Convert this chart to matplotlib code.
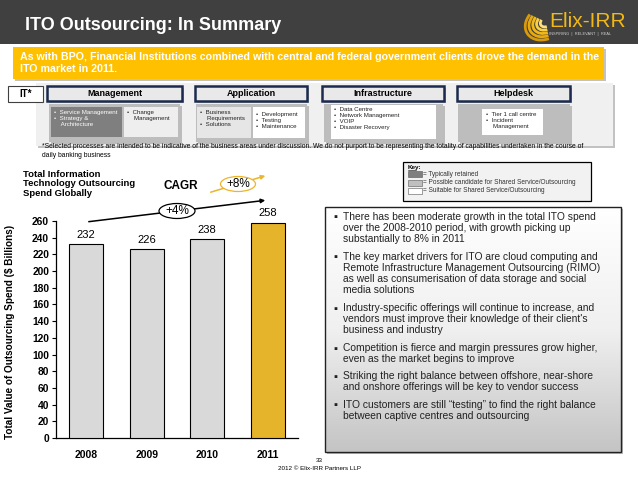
import matplotlib.pyplot as plt
import matplotlib.patches as mpatches
from matplotlib.colors import LinearSegmentedColormap
import numpy as np

plt.rcParams['font.family'] = ['Liberation Sans', 'DejaVu Sans']

# chart values
years = ['2008', '2009', '2010', '2011']
spend = [232, 226, 238, 258]
bar_colors = ['#D9D9D9', '#D9D9D9', '#D9D9D9', '#E6B42A']
yticks = list(range(0, 261, 20))
cagr_labels = ['+4%', '+8%']

# IT service areas and what sits under each one
areas = ['Management', 'Application', 'Infrastructure', 'Helpdesk']

key_labels = ['= Typically retained',
              '= Possible candidate for Shared Service/Outsourcing',
              '= Suitable for Shared Service/Outsourcing']
key_colors = ['#7F7F7F', '#BFBFBF', '#FFFFFF']

bullets = [
    'There has been moderate growth in the total ITO spend\nover the 2008-2010 period, with growth picking up\nsubstantially to 8% in 2011',
    'The key market drivers for ITO are cloud computing and\nRemote Infrastructure Management Outsourcing (RIMO)\nas well as consumerisation of data storage and social\nmedia solutions',
    'Industry-specific offerings will continue to increase, and\nvendors must improve their knowledge of their client\'s\nbusiness and industry',
    'Competition is fierce and margin pressures grow higher,\neven as the market begins to improve',
    'Striking the right balance between offshore, near-shore\nand onshore offerings will be key to vendor success',
    'ITO customers are still \u201ctesting\u201d to find the right balance\nbetween captive centres and outsourcing',
]

fig = plt.figure(figsize=(6.38, 4.79), dpi=100)
fig.patch.set_facecolor('white')

# background axes in pixel coordinates (y down)
bg = fig.add_axes([0, 0, 1, 1])
bg.set_xlim(0, 638)
bg.set_ylim(479, 0)
bg.axis('off')


def box(x0, y0, x1, y1, fc, ec='none', lw=0, shadow=False, z=2):
    if shadow:
        bg.add_patch(mpatches.Rectangle((x0 + 2, y0 + 2), x1 - x0, y1 - y0,
                                        fc='#9A9A9A', ec='none', alpha=0.6, zorder=z - 0.1))
    bg.add_patch(mpatches.Rectangle((x0, y0), x1 - x0, y1 - y0, fc=fc, ec=ec, lw=lw, zorder=z))


# header band and title
box(0, 0, 638, 44, '#404040', z=1)
bg.text(25, 25, 'ITO Outsourcing: In Summary', color='white', fontsize=13,
        fontweight='bold', va='center', ha='left', zorder=5)

# logo (striped swirl + name)
for r, c in zip([6, 10, 14, 18, 22], ['#FFE07A', '#F8CF45', '#F2B817', '#E8A90F', '#D99A0A']):
    bg.add_patch(mpatches.Arc((546, 22), 2 * r, 2 * r * 0.75, angle=-30, theta1=110, theta2=235,
                              color=c, lw=2.0, zorder=5))
bg.text(549, 21, 'Elix-IRR', color='#F2B817', fontsize=15, va='center', ha='left', zorder=5)
bg.text(549, 34, 'INSPIRING  |  RELEVANT  |  REAL', color='#D0D0D0', fontsize=2.8,
        va='center', ha='left', zorder=5)

# yellow banner
box(13, 47, 604, 79, '#FFC000', shadow=True)
bg.text(20, 63, 'As with BPO, Financial Institutions combined with central and federal government clients drove the demand in the\nITO market in 2011.',
        color='white', fontsize=7.7, fontweight='bold', va='center', ha='left', linespacing=1.3, zorder=5)

# IT row
box(36, 83, 613, 146, '#F0F0F0', shadow=True, z=1)
box(8, 86, 43, 102, 'white', ec='#404040', lw=0.8)
bg.text(25.5, 94, 'IT*', fontsize=7, fontweight='bold', ha='center', va='center', zorder=5)

headers = [(47, 182), (195, 307), (322, 444), (457, 570)]
for (x0, x1), name in zip(headers, areas):
    box(x0, 86, x1, 101, '#E9E9E9', ec='#1B2A4E', lw=1.8, shadow=True, z=3)
    bg.text((x0 + x1) / 2, 93.5, name, fontsize=6.5, fontweight='bold', ha='center', va='center', zorder=5)

# grey holders under each header
for x0, x1 in [(49, 180), (196, 307), (324, 443), (458, 570)]:
    box(x0, 104, x1, 142, '#BDBDBD', shadow=True, z=3)

inner = [
    (51, 122, 107, 137, '#7F7F7F', '\u2022  Service Management\n\u2022  Strategy &\n    Architecture', 'white', 54, 110),
    (124, 178, 107, 137, '#EEEEEE', '\u2022  Change\n    Management', '#222222', 127, 110),
    (197, 251, 107, 138, '#E6E6E6', '\u2022  Business\n    Requirements\n\u2022  Solutions', '#222222', 200, 110),
    (253, 305, 107, 138, 'white', '\u2022  Development\n\u2022  Testing\n\u2022  Maintenance', '#222222', 256, 112),
    (331, 436, 105, 139, 'white', '\u2022  Data Centre\n\u2022  Network Management\n\u2022  VOIP\n\u2022  Disaster Recovery', '#222222', 334, 107),
    (482, 543, 109, 135, 'white', '\u2022  Tier 1 call centre\n\u2022  Incident\n    Management', '#222222', 486, 112),
]
for x0, x1, y0, y1, fc, txt, tc, tx, ty in inner:
    box(x0, y0, x1, y1, fc, z=4)
    bg.text(tx, ty, txt, fontsize=4.4, color=tc, ha='left', va='top', linespacing=1.25, zorder=5)

bg.text(42, 151, '*Selected processes are intended to be indicative of the business areas under discussion. We do not purport to be representing the totality of capabilities undertaken in the course of\ndaily banking business',
        fontsize=4.85, ha='left', va='center', linespacing=1.55, zorder=5)

# key
box(403, 162, 591, 201, '#F2F2F2', ec='black', lw=0.9)
bg.text(408, 167, 'Key:', fontsize=4.6, fontweight='bold', ha='left', va='center', zorder=5)
bg.plot([408, 416], [169.5, 169.5], color='black', lw=0.4, zorder=5)
for i, (lab, c) in enumerate(zip(key_labels, key_colors)):
    yy = 174 + i * 8.5
    box(408, yy - 3, 422, yy + 3, c, ec='#555555', lw=0.4, z=5)
    bg.text(423, yy, lab, fontsize=4.7, color='#333333', ha='left', va='center', zorder=5)

# text box with gradient
bg.add_patch(mpatches.Rectangle((327, 209), 296, 245, fc='#8A8A8A', ec='none', alpha=0.6, zorder=1))
grad = np.linspace(0, 1, 256).reshape(-1, 1)
cmap = LinearSegmentedColormap.from_list('g', ['#FFFFFF', '#F0F0F0', '#C4C4C4'])
bg.imshow(grad, extent=[325, 621, 452, 207], cmap=cmap, aspect='auto', zorder=2, origin='upper')
bg.add_patch(mpatches.Rectangle((325, 207), 296, 245, fc='none', ec='#222222', lw=1.0, zorder=3))
bg.set_xlim(0, 638)
bg.set_ylim(479, 0)

y = 212
for b in bullets:
    n = b.count('\n') + 1
    bg.text(333, y + 0.5, '\u25aa', fontsize=8, color='#222222', ha='left', va='top', zorder=5)
    bg.text(343, y, b, fontsize=7.35, color='#222222', ha='left', va='top', linespacing=1.13, zorder=5)
    y += n * 11.55 + 5.2

# footer
bg.text(319, 461, '33', fontsize=4.5, ha='center', va='center', zorder=5)
bg.text(319, 468, '2012 \u00a9 Elix-IRR Partners LLP', fontsize=4.5, ha='center', va='center', zorder=5)

# chart titles
bg.text(23, 184, 'Total Information\nTechnology Outsourcing\nSpend Globally', fontsize=6.8, fontweight='bold',
        ha='left', va='center', linespacing=1.12, zorder=5)
bg.text(181, 186, 'CAGR', fontsize=8.5, fontweight='bold', ha='center', va='center', zorder=5)

# CAGR arrows
bg.annotate('', xy=(268, 200), xytext=(86, 222),
            arrowprops=dict(arrowstyle='-|>', color='black', lw=1.1, mutation_scale=6), zorder=5)
bg.annotate('', xy=(268, 175), xytext=(208, 193),
            arrowprops=dict(arrowstyle='-|>', color='#EBB52C', lw=1.1, mutation_scale=6), zorder=5)
bg.add_patch(mpatches.Ellipse((177, 211), 36, 15, fc='white', ec='black', lw=0.9, zorder=6))
bg.text(177, 211, cagr_labels[0], fontsize=8.5, ha='center', va='center', zorder=7)
bg.add_patch(mpatches.Ellipse((238, 184), 35, 15, fc='white', ec='#EBB52C', lw=0.9, zorder=6))
bg.text(238, 184, cagr_labels[1], fontsize=8.5, ha='center', va='center', zorder=7)

# bar chart
ax = fig.add_axes([56 / 638, 41 / 479, 242 / 638, 217 / 479])
ax.patch.set_alpha(0)
x = np.arange(len(years))
ax.bar(x, spend, width=0.57, color=bar_colors, edgecolor='black', linewidth=0.8, zorder=3)
for xi, v in zip(x, spend):
    ax.text(xi, v + 5, str(v), ha='center', va='bottom', fontsize=8, clip_on=False)
ax.set_xlim(-0.5, 3.5)
ax.set_ylim(0, 260)
ax.set_yticks(yticks)
ax.set_xticks(x)
ax.set_xticklabels(years)
for s in ['top', 'right']:
    ax.spines[s].set_visible(False)
ax.spines['left'].set_linewidth(0.9)
ax.spines['bottom'].set_linewidth(0.9)
ax.tick_params(axis='y', length=3, width=0.8, labelsize=7.4, pad=2)
ax.tick_params(axis='x', length=0, labelsize=7.5, pad=9)
for lab in ax.get_yticklabels() + ax.get_xticklabels():
    lab.set_fontweight('bold')
ax.set_ylabel('Total Value of Outsourcing Spend ($ Billions)', fontsize=7.2, fontweight='bold', labelpad=4)
ax.yaxis.set_label_coords(-0.17, 0.49)

fig.savefig('out.png', dpi=100)
